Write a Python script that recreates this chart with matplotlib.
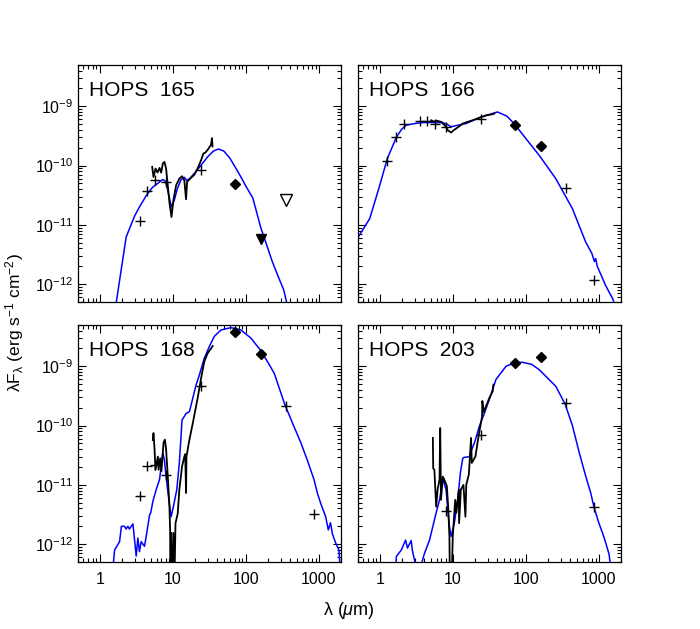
"""SED panels for four HOPS protostars: model (blue), IRS spectrum (black), photometry."""
import math

import matplotlib
matplotlib.use("Agg")
import matplotlib.pyplot as plt
from matplotlib.ticker import FixedLocator, FuncFormatter, NullFormatter

plt.rcParams["font.family"] = ["Liberation Sans", "DejaVu Sans"]
plt.rcParams["mathtext.fontset"] = "custom"
plt.rcParams["mathtext.rm"] = "Liberation Sans"
plt.rcParams["mathtext.it"] = "Liberation Sans:italic"
plt.rcParams["mathtext.default"] = "regular"

# ── HOPS 165 ───────────────────────────────────────────────────────────────
h165_model_wl = [1.6, 1.69, 2.3, 3.0, 3.5, 4.4, 5.3, 6.5, 7.3, 7.8, 8.3, 9.0, 9.6,
                 10.5, 11.5, 13, 14.5, 15.5, 17, 20, 25, 30, 36, 42, 50, 60, 73,
                 85, 100, 125, 160, 200, 230, 280, 330, 360, 380]
h165_model_f = [3e-13, 5e-13, 6.2e-12, 1.4e-11, 2.0e-11, 3.2e-11, 4.3e-11, 5.2e-11,
                5.8e-11, 5.5e-11, 4.5e-11, 2.8e-11, 2.0e-11, 2.6e-11, 4.0e-11,
                5.8e-11, 6.3e-11, 5.6e-11, 6.0e-11, 7.5e-11, 1.05e-10, 1.4e-10,
                1.75e-10, 1.9e-10, 1.75e-10, 1.35e-10, 9e-11, 6.5e-11, 4.5e-11,
                2.8e-11, 9e-12, 4e-12, 2.4e-12, 1.3e-12, 8e-13, 5e-13, 3e-13]
h165_spec_wl = [5.23, 5.45, 5.81, 6.18, 6.59, 6.94, 7.31, 7.7, 8.1, 8.55, 9.0, 9.6,
                10.2, 11.1, 12.3, 13.4, 14.4, 15.2, 15.7, 17.3, 19.8, 22.4, 24.4,
                26.2, 27.9, 30.4, 33.4, 34.4, 35.0]
h165_spec_f = [9.5e-11, 6.4e-11, 8.9e-11, 7.6e-11, 9.1e-11, 7.6e-11, 1.08e-10,
               1.15e-10, 8.9e-11, 4.6e-11, 2.4e-11, 1.35e-11, 2.6e-11, 4.6e-11,
               6.0e-11, 6.6e-11, 5.6e-11, 2.7e-11, 5.3e-11, 6.0e-11, 7.0e-11,
               9.5e-11, 1.23e-10, 1.59e-10, 1.65e-10, 1.88e-10, 2.25e-10, 2.9e-10,
               2.1e-10]
h165_phot_wl = [3.6, 4.5, 5.8, 8.0, 24]
h165_phot_f = [1.16e-11, 3.7e-11, 5.6e-11, 5.2e-11, 8.3e-11]
h165_pacs_wl = [70]
h165_pacs_f = [4.8e-11]
h165_ulim_wl = [160]
h165_ulim_f = [5.8e-12]
h165_open_wl = [350]
h165_open_f = [2.6e-11]

# ── HOPS 166 ───────────────────────────────────────────────────────────────
h166_model_wl = [0.5, 0.73, 1.0, 1.27, 1.69, 2.0, 2.31, 3.0, 3.9, 5.5, 7.3, 8.5,
                 9.5, 11, 15.2, 23.1, 32, 41, 55, 69, 100, 152, 257, 434, 660,
                 800, 870, 903, 950, 1234, 1550, 1700]
h166_model_f = [6e-12, 1.27e-11, 4.6e-11, 1.3e-10, 3.0e-10, 4.1e-10, 4.8e-10,
                5.1e-10, 5.3e-10, 5.3e-10, 5.3e-10, 4.9e-10, 4.5e-10, 4.7e-10,
                5.1e-10, 6.4e-10, 7.3e-10, 8.0e-10, 6.8e-10, 5.1e-10, 2.85e-10,
                1.49e-10, 6.0e-11, 1.87e-11, 5.1e-12, 3.3e-12, 2.4e-12, 2.7e-12,
                2.0e-12, 9.5e-13, 5.6e-13, 4e-13]
h166_spec_wl = [5.07, 5.5, 6.0, 6.94, 7.3, 8.0, 8.55, 9.5, 10.2, 11.1, 12.3, 13.7,
                16, 18.8, 23.1, 28.5, 33, 37]
h166_spec_f = [5.8e-10, 5.5e-10, 5.7e-10, 5.45e-10, 5.1e-10, 4.6e-10, 3.94e-10,
               3.6e-10, 3.9e-10, 4.2e-10, 4.6e-10, 5.1e-10, 5.45e-10, 5.8e-10,
               6.4e-10, 7.0e-10, 7.2e-10, 7.5e-10]
h166_phot_wl = [1.25, 1.65, 2.17, 3.6, 4.5, 5.8, 8.0, 24, 350, 870]
h166_phot_f = [1.2e-10, 3.0e-10, 5.0e-10, 5.7e-10, 5.7e-10, 5.1e-10, 4.5e-10,
               6.2e-10, 4.1e-11, 1.15e-12]
h166_pacs_wl = [70, 160]
h166_pacs_f = [4.8e-10, 2.14e-10]

# ── HOPS 168 ───────────────────────────────────────────────────────────────
h168_model_wl = [1.52, 1.6, 1.87, 1.98, 2.19, 2.3, 2.43, 2.55, 2.85, 3.0, 3.16,
                 3.33, 3.5, 3.7, 4.1, 4.33, 4.81, 5.0, 5.33, 5.93, 6.59, 6.94,
                 7.31, 7.7, 8.1, 8.84, 9.5, 10.2, 11.35, 12.3, 13.4, 15.2, 16.9,
                 18.8, 20.8, 23.1, 27, 31.6, 37, 45.7, 62.5, 85.7, 117, 152, 198,
                 245, 340, 450, 564, 695, 857, 953, 1057, 1237, 1344, 1440, 1530,
                 1693, 1880, 1950]
h168_model_f = [4e-13, 8e-13, 1.1e-12, 2.0e-12, 2.0e-12, 1.8e-12, 2.0e-12, 1.8e-12,
                2.2e-12, 1.18e-12, 6.3e-13, 1.27e-12, 7.5e-13, 1.1e-12, 9.2e-13,
                1.35e-12, 3.1e-12, 3.4e-12, 5.2e-12, 8.3e-12, 1.23e-11, 2.05e-11,
                3.45e-11, 2.6e-11, 1.38e-11, 5.6e-12, 2.9e-12, 4.3e-12, 8.3e-12,
                2.35e-11, 1.24e-10, 1.6e-10, 1.72e-10, 2.9e-10, 4.8e-10, 7.1e-10,
                1.37e-9, 2.15e-9, 3.2e-9, 4.1e-9, 4.5e-9, 4.1e-9, 3.0e-9, 2.0e-9,
                1.2e-9, 7.6e-10, 2.3e-10, 1.0e-10, 5.2e-11, 2.6e-11, 1.23e-11,
                7.3e-12, 4.9e-12, 2.9e-12, 1.74e-12, 2.3e-12, 1.5e-12, 1.05e-12,
                8e-13, 4e-13]
h168_spec_wl = [5.33, 5.45, 5.62, 5.8, 6.25, 6.4, 6.73, 7.0, 7.47, 7.8, 8.1, 8.55,
                9.0, 9.2, 9.3, 9.5, 9.6, 10.2, 10.4, 10.9, 11.7, 12.3, 13.4, 14.4,
                14.8, 15.2, 15.4, 16.9, 18.8, 20.8, 21.9, 24.4, 27, 30, 33.4, 35.2]
h168_spec_f = [5.7e-11, 7.5e-11, 4.2e-11, 1.8e-11, 3.0e-11, 1.8e-11, 2.8e-11,
               1.7e-11, 5.1e-11, 5.8e-11, 4.0e-11, 1.38e-11, 4.3e-12, 1.74e-12,
               1e-13, 1.55e-12, 1e-13, 1.55e-12, 1e-13, 2.26e-12, 3.3e-12, 8.3e-12,
               2.05e-11, 3.0e-11, 3.3e-11, 7.3e-12, 3.0e-11, 5.8e-11, 1.1e-10,
               2.1e-10, 2.9e-10, 6.3e-10, 1.2e-9, 1.66e-9, 2.0e-9, 2.2e-9]
h168_phot_wl = [3.6, 4.5, 5.8, 8.0, 24, 350, 870]
h168_phot_f = [6.5e-12, 2.05e-11, 2.18e-11, 1.48e-11, 4.7e-10, 2.1e-10, 3.2e-12]
h168_pacs_wl = [70, 160]
h168_pacs_f = [3.8e-9, 1.62e-9]

# ── HOPS 203 ───────────────────────────────────────────────────────────────
h203_model_wl = [1.65, 1.69, 1.98, 2.26, 2.4, 2.7, 2.8, 3.1, 3.2, 3.6, 3.7, 4.1,
                 4.81, 5.34, 5.93, 6.59, 7.16, 7.4, 8.1, 8.55, 9.0, 9.5, 10.5,
                 11.7, 12.7, 13.7, 14.2, 16.9, 17.8, 19.8, 23.1, 27, 31.6, 39,
                 53.5, 69.5, 90, 120, 152, 257, 345, 434, 535, 660, 773, 857,
                 1000, 1120, 1240, 1380, 1450]
h203_model_f = [3e-13, 6.2e-13, 8e-13, 1.17e-12, 8.6e-13, 1.15e-12, 7.8e-13,
                4.5e-13, 3e-13, 3e-13, 4.5e-13, 7e-13, 1.17e-12, 2.0e-12, 3.4e-12,
                5.6e-12, 1.07e-11, 1.2e-11, 8.3e-12, 3.8e-12, 2.0e-12, 1.35e-12,
                2.26e-12, 5.6e-12, 1.58e-11, 2.8e-11, 2.9e-11, 3.0e-11, 3.7e-11,
                5.1e-11, 9.7e-11, 1.6e-10, 2.75e-10, 6.0e-10, 1.0e-9, 1.14e-9,
                1.17e-9, 1.08e-9, 8.8e-10, 4.6e-10, 2.3e-10, 1.0e-10, 3.6e-11,
                1.4e-11, 7.3e-12, 4.2e-12, 2.26e-12, 1.55e-12, 1.05e-12, 6.7e-13,
                4e-13]
h203_spec_wl = [5.34, 5.4, 5.6, 5.93, 6.2, 6.59, 6.73, 6.9, 7.31, 7.7, 8.3, 8.65,
                9.0, 9.2, 9.5, 10.0, 10.8, 11.2, 12.1, 12.2, 12.9, 14.0, 14.9, 15.3,
                16.6, 17.8, 18.2, 20.4, 22.7, 25.2, 25.4, 26.5, 31.6, 35.2, 35.5, 36]
h203_spec_f = [6.2e-11, 1.9e-11, 1.8e-11, 4.3e-12, 8.3e-12, 1.23e-11, 9.1e-11,
               5.6e-12, 1.38e-11, 1.2e-11, 9.5e-12, 4.3e-12, 1.35e-12, 1e-13, 1e-13,
               1.35e-12, 5.6e-12, 3.4e-12, 8.3e-12, 2.26e-12, 8.3e-12, 1.0e-11,
               2.9e-12, 1.0e-11, 1.5e-11, 6.2e-11, 2.35e-11, 3.0e-11, 7.0e-11,
               1.43e-10, 2.6e-10, 1.7e-10, 2.9e-10, 3.8e-10, 4.4e-10, 4.9e-10]
h203_phot_wl = [8.0, 24, 350, 870]
h203_phot_f = [3.6e-12, 7.0e-11, 2.4e-10, 4.2e-12]
h203_pacs_wl = [70, 160]
h203_pacs_f = [1.14e-9, 1.44e-9]

# axis ticks
x_major = [1, 10, 100, 1000]
x_minor = [m * 10.0 ** e for e in range(-1, 4) for m in range(2, 10)]
y_major = [1e-12, 1e-11, 1e-10, 1e-9]
y_minor = [m * 10.0 ** e for e in range(-13, -8) for m in range(2, 10)]

fig = plt.figure(figsize=(7.0, 6.29), dpi=100)

AX_W, AX_H = 0.376, 0.377
positions = [(0.111, 0.520), (0.511, 0.520), (0.111, 0.1065), (0.511, 0.1065)]

panels = [
    ("HOPS  165", h165_model_wl, h165_model_f, h165_spec_wl, h165_spec_f,
     h165_phot_wl, h165_phot_f, h165_pacs_wl, h165_pacs_f),
    ("HOPS  166", h166_model_wl, h166_model_f, h166_spec_wl, h166_spec_f,
     h166_phot_wl, h166_phot_f, h166_pacs_wl, h166_pacs_f),
    ("HOPS  168", h168_model_wl, h168_model_f, h168_spec_wl, h168_spec_f,
     h168_phot_wl, h168_phot_f, h168_pacs_wl, h168_pacs_f),
    ("HOPS  203", h203_model_wl, h203_model_f, h203_spec_wl, h203_spec_f,
     h203_phot_wl, h203_phot_f, h203_pacs_wl, h203_pacs_f),
]


def ytick_fmt(v, pos):
    return r"10$^{%d}$" % int(round(math.log10(v)))


for i, (name, mwl, mf, swl, sf, pwl, pf, dwl, df) in enumerate(panels):
    x0, y0 = positions[i]
    ax = fig.add_axes([x0, y0, AX_W, AX_H])
    ax.set_xscale("log")
    ax.set_yscale("log")

    ax.plot(mwl, mf, color="#0000ff", lw=1.1, zorder=2)
    ax.plot(swl, sf, color="black", lw=1.3, zorder=3)
    ax.plot(pwl, pf, ls="none", marker="+", ms=7, mew=1.0, color="black", zorder=4)
    ax.plot(dwl, df, ls="none", marker="D", ms=5, color="black", zorder=4)
    if i == 0:
        ax.plot(h165_ulim_wl, h165_ulim_f, ls="none", marker="v", ms=7,
                color="black", zorder=4)
        ax.plot(h165_open_wl, h165_open_f, ls="none", marker="v", ms=8,
                mfc="white", mec="black", mew=1.0, zorder=4)

    ax.set_xlim(0.5, 2000)
    ax.set_ylim(5e-13, 5e-9)
    ax.xaxis.set_major_locator(FixedLocator(x_major))
    ax.xaxis.set_minor_locator(FixedLocator(x_minor))
    ax.yaxis.set_major_locator(FixedLocator(y_major))
    ax.yaxis.set_minor_locator(FixedLocator(y_minor))
    ax.xaxis.set_minor_formatter(NullFormatter())
    ax.yaxis.set_minor_formatter(NullFormatter())
    ax.tick_params(which="both", direction="in", top=True, right=True,
                   labelsize=11.5, width=0.8)
    ax.tick_params(which="major", length=5.5)
    ax.tick_params(which="minor", length=3)
    ax.tick_params(axis="x", pad=7)
    ax.tick_params(axis="y", pad=3)

    if i >= 2:
        ax.xaxis.set_major_formatter(FuncFormatter(lambda v, p: "%g" % v))
    else:
        ax.xaxis.set_major_formatter(NullFormatter())
    if i % 2 == 0:
        ax.yaxis.set_major_formatter(FuncFormatter(ytick_fmt))
    else:
        ax.yaxis.set_major_formatter(NullFormatter())

    for s in ax.spines.values():
        s.set_linewidth(0.9)

    ax.text(0.042, 0.89, name, transform=ax.transAxes, fontsize=15,
            ha="left", va="center")

fig.text(0.021, 0.487, r"$\lambda$F$_\lambda$ (erg s$^{-1}$ cm$^{-2}$)",
         rotation=90, ha="center", va="center", fontsize=12.5)
fig.text(0.499, 0.030, r"$\lambda$ ($\mathit{\mu}$m)", ha="center", va="center",
         fontsize=13)

fig.savefig("out.png", dpi=100, facecolor="white")
